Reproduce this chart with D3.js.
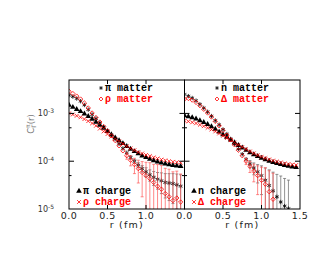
<!DOCTYPE html>
<html>
<head>
<meta charset="utf-8">
<script src="https://cdn.jsdelivr.net/npm/d3@7"></script>
<style>
body { margin: 0; background: #fff; }
</style>
</head>
<body>
<div id="chart"></div>
<script>
// r grid (fm), shared by every series
const rVals = [0.00, 0.05, 0.10, 0.15, 0.20, 0.25, 0.30, 0.35, 0.40, 0.45,
    0.50, 0.55, 0.60, 0.65, 0.70, 0.75, 0.80, 0.85, 0.90, 0.95,
    1.00, 1.05, 1.10, 1.15, 1.20, 1.25, 1.30, 1.35, 1.40, 1.45]

// left panel
const piMatter = [2.4e-3, 2.25e-3, 2.05e-3, 1.8e-3, 1.5e-3, 1.2e-3, 9.5e-4, 7.8e-4, 6.4e-4, 5.2e-4,
    4.3e-4, 3.5e-4, 2.9e-4, 2.3e-4, 1.85e-4, 1.5e-4, 1.2e-4, 1.0e-4, 8.3e-5, 7.0e-5,
    6.0e-5, 5.2e-5, 4.6e-5, 4.2e-5, 3.9e-5, 3.6e-5, 3.5e-5, 3.4e-5, 3.2e-5, 3.0e-5]
const piMatterErr = [0, 0, 0, 0, 0, 0, 0, 0, 0, 0,
    0, 0, 0, 0, 0, 0, 8e-6, 9e-6, 1e-5, 1.1e-5,
    1.3e-5, 1.4e-5, 1.5e-5, 1.6e-5, 1.8e-5, 1.9e-5, 2e-5, 2.1e-5, 2.2e-5, 2.2e-5]
const rhoMatter = [2.9e-3, 2.6e-3, 2.3e-3, 2.0e-3, 1.65e-3, 1.3e-3, 1.02e-3, 8.2e-4, 6.6e-4, 5.3e-4,
    4.3e-4, 3.4e-4, 2.7e-4, 2.1e-4, 1.65e-4, 1.3e-4, 1.05e-4, 8.5e-5, 7.0e-5, 5.8e-5,
    5.0e-5, 4.3e-5, 3.6e-5, 3.0e-5, 2.6e-5, 2.1e-5, 1.8e-5, 1.5e-5, 1.7e-5, 1.4e-5]
const rhoMatterErr = [0, 0, 0, 0, 0, 0, 0, 0, 0, 0,
    0, 0, 0, 0, 0, 2e-5, 2.5e-5, 3e-5, 3.5e-5, 4e-5,
    4.5e-5, 5e-5, 5e-5, 5.5e-5, 5.5e-5, 5e-5, 5e-5, 4.5e-5, 4.5e-5, 4e-5]
const piCharge = [1.5e-3, 1.35e-3, 1.22e-3, 1.1e-3, 9.8e-4, 8.7e-4, 7.6e-4, 6.6e-4, 5.7e-4, 4.9e-4,
    4.2e-4, 3.6e-4, 3.1e-4, 2.7e-4, 2.35e-4, 2.05e-4, 1.8e-4, 1.6e-4, 1.45e-4, 1.3e-4,
    1.2e-4, 1.1e-4, 1.03e-4, 9.7e-5, 9.2e-5, 8.8e-5, 8.5e-5, 8.2e-5, 8.0e-5, 7.8e-5]
const rhoCharge = [1.0e-3, 9.5e-4, 8.9e-4, 8.3e-4, 7.6e-4, 6.9e-4, 6.2e-4, 5.5e-4, 4.8e-4, 4.2e-4,
    3.7e-4, 3.3e-4, 2.9e-4, 2.6e-4, 2.3e-4, 2.05e-4, 1.85e-4, 1.7e-4, 1.55e-4, 1.45e-4,
    1.35e-4, 1.28e-4, 1.2e-4, 1.14e-4, 1.08e-4, 1.04e-4, 1.0e-4, 9.7e-5, 9.5e-5, 9.3e-5]

// right panel
const nMatter = [2.5e-3, 2.3e-3, 2.1e-3, 1.85e-3, 1.55e-3, 1.3e-3, 1.08e-3, 8.8e-4, 7.1e-4, 5.8e-4,
    4.6e-4, 3.7e-4, 2.9e-4, 2.3e-4, 1.8e-4, 1.4e-4, 1.1e-4, 8.8e-5, 7.2e-5, 6.0e-5,
    5.0e-5, 4.0e-5, 3.1e-5, 2.4e-5, 1.8e-5, 1.4e-5, 1.15e-5, 1.02e-5, null, null]
const nMatterErr = [0, 0, 0, 0, 0, 0, 0, 0, 0, 0,
    0, 0, 0, 0, 0, 0, 0, 1.5e-5, 2e-5, 2.5e-5,
    3e-5, 3.2e-5, 3.5e-5, 3.5e-5, 3.5e-5, 3.5e-5, 3.2e-5, 3e-5, 0, 0]
const deltaMatter = [2.0e-3, 2.05e-3, 1.9e-3, 1.7e-3, 1.45e-3, 1.22e-3, 1.02e-3, 8.4e-4, 6.8e-4, 5.5e-4,
    4.4e-4, 3.5e-4, 2.8e-4, 2.2e-4, 1.7e-4, 1.3e-4, 1.0e-4, 7.8e-5, 6.2e-5, 5.0e-5,
    4.0e-5, 3.3e-5, 2.3e-5, 1.6e-5, null, null, null, null, null, null]
const deltaMatterErr = [0, 0, 0, 0, 0, 0, 0, 0, 0, 0,
    0, 0, 0, 0, 0, 0, 1.5e-5, 2e-5, 2.5e-5, 3e-5,
    3.5e-5, 4e-5, 4e-5, 4e-5, 0, 0, 0, 0, 0, 0]
const nCharge = [9.0e-4, 8.6e-4, 8.2e-4, 7.7e-4, 7.1e-4, 6.5e-4, 5.9e-4, 5.3e-4, 4.7e-4, 4.1e-4,
    3.6e-4, 3.2e-4, 2.8e-4, 2.45e-4, 2.15e-4, 1.9e-4, 1.7e-4, 1.52e-4, 1.38e-4, 1.26e-4,
    1.16e-4, 1.08e-4, 1.01e-4, 9.5e-5, 9.0e-5, 8.6e-5, 8.2e-5, 7.9e-5, 7.6e-5, 7.4e-5]
const deltaCharge = [7.0e-4, 6.8e-4, 6.5e-4, 6.2e-4, 5.8e-4, 5.4e-4, 5.0e-4, 4.6e-4, 4.2e-4, 3.8e-4,
    3.4e-4, 3.05e-4, 2.75e-4, 2.45e-4, 2.2e-4, 1.98e-4, 1.78e-4, 1.6e-4, 1.46e-4, 1.34e-4,
    1.24e-4, 1.16e-4, 1.09e-4, 1.03e-4, 9.8e-5, 9.4e-5, 9.0e-5, 8.7e-5, 8.5e-5, 8.3e-5]

const xTicks = [0, 0.5, 1.0, 1.5]
const yMajor = [1e-3, 1e-4]
const yMinor = [5e-4, 5e-5]
const yLabels = [["10", "-3", 1e-3], ["10", "-4", 1e-4], ["10", "-5", 1e-5]]

const w = 327
const h = 273
const topY = 80
const botY = 209
const panelW = 115.5
const lefts = [69, 69 + panelW]

const svg = d3.select('#chart')
    .append('svg')
    .attr('width', w)
    .attr('height', h)

const yScale = d3.scaleLog()
    .domain([1e-5, 5e-3])
    .range([botY, topY])

const sym = (type, size) => d3.symbol(type, size)()

const panels = [
    {
        series: [
            { vals: piCharge, err: null, type: d3.symbolTriangle, size: 14, color: '#000', fill: true },
            { vals: rhoCharge, err: null, type: d3.symbolTimes, size: 11, color: '#f00', fill: false },
            { vals: piMatter, err: piMatterErr, type: d3.symbolAsterisk, size: 13, color: '#000', fill: false, errColor: '#666' },
            { vals: rhoMatter, err: rhoMatterErr, type: d3.symbolDiamond2, size: 12, color: '#f00', fill: false, errColor: '#f55' }
        ],
        legend: [
            { name: 'π matter', x: 101, y: 88, type: d3.symbolAsterisk, size: 10, color: '#000', fill: false },
            { name: 'ρ matter', x: 101, y: 99, type: d3.symbolDiamond2, size: 10, color: '#f00', fill: false },
            { name: 'π charge', x: 79, y: 191, type: d3.symbolTriangle, size: 14, color: '#000', fill: true },
            { name: 'ρ charge', x: 79, y: 202, type: d3.symbolTimes, size: 11, color: '#f00', fill: false }
        ],
        tickLabels: [0, 0.5, 1.0]
    },
    {
        series: [
            { vals: nCharge, err: null, type: d3.symbolTriangle, size: 14, color: '#000', fill: true },
            { vals: deltaCharge, err: null, type: d3.symbolTimes, size: 11, color: '#f00', fill: false },
            { vals: nMatter, err: nMatterErr, type: d3.symbolAsterisk, size: 13, color: '#000', fill: false, errColor: '#666' },
            { vals: deltaMatter, err: deltaMatterErr, type: d3.symbolDiamond2, size: 12, color: '#f00', fill: false, errColor: '#f55' }
        ],
        legend: [
            { name: 'n matter', x: 217, y: 88, type: d3.symbolAsterisk, size: 10, color: '#000', fill: false },
            { name: 'Δ matter', x: 217, y: 99, type: d3.symbolDiamond2, size: 10, color: '#f00', fill: false },
            { name: 'n charge', x: 194, y: 191, type: d3.symbolTriangle, size: 14, color: '#000', fill: true },
            { name: 'Δ charge', x: 194, y: 202, type: d3.symbolTimes, size: 11, color: '#f00', fill: false }
        ],
        tickLabels: [0, 0.5, 1.0, 1.5]
    }
]

panels.forEach((p, pi) => {
    const x0 = lefts[pi]
    const xScale = d3.scaleLinear()
        .domain([0, 1.5])
        .range([x0, x0 + panelW])

    svg.append('clipPath')
        .attr('id', 'clip' + pi)
        .append('rect')
        .attr('x', x0)
        .attr('y', topY)
        .attr('width', panelW)
        .attr('height', botY - topY)

    const g = svg.append('g').attr('clip-path', 'url(#clip' + pi + ')')

    p.series.forEach(s => {
        const pts = rVals.map((r, i) => ({ r: r, v: s.vals[i], e: s.err ? s.err[i] : 0 }))
            .filter(d => d.v != null)

        // error bars
        const eb = pts.filter(d => d.e > 0)
        const eg = g.append('g')
            .attr('stroke', s.errColor)
            .attr('stroke-width', 0.7)
        eb.forEach(d => {
            const xx = xScale(d.r)
            const yHi = yScale(d.v + d.e)
            const lo = d.v - d.e
            const yLo = lo > 1e-6 ? yScale(lo) : botY + 5
            eg.append('line').attr('x1', xx).attr('x2', xx).attr('y1', yHi).attr('y2', yLo)
            eg.append('line').attr('x1', xx - 1.5).attr('x2', xx + 1.5).attr('y1', yHi).attr('y2', yHi)
            eg.append('line').attr('x1', xx - 1.5).attr('x2', xx + 1.5).attr('y1', yLo).attr('y2', yLo)
        })

        g.append('g')
            .selectAll('path')
            .data(pts)
            .enter()
            .append('path')
            .attr('d', sym(s.type, s.size))
            .attr('transform', d => 'translate(' + xScale(d.r) + ',' + yScale(d.v) + ')')
            .attr('fill', s.fill ? s.color : 'none')
            .attr('stroke', s.color)
            .attr('stroke-width', s.fill ? 0 : 0.8)
    })

    // frame
    svg.append('rect')
        .attr('x', x0)
        .attr('y', topY)
        .attr('width', panelW)
        .attr('height', botY - topY)
        .attr('fill', 'none')
        .attr('stroke', '#000')
        .attr('stroke-width', 1)

    // x ticks top and bottom
    xTicks.slice(1, 3).forEach(t => {
        const xx = xScale(t)
        svg.append('line').attr('x1', xx).attr('x2', xx).attr('y1', botY).attr('y2', botY - 4).attr('stroke', '#000')
        svg.append('line').attr('x1', xx).attr('x2', xx).attr('y1', topY).attr('y2', topY + 4).attr('stroke', '#000')
    })

    // y ticks both sides
    const x1 = x0 + panelW
    yMajor.forEach(t => {
        svg.append('line').attr('x1', x0).attr('x2', x0 + 5).attr('y1', yScale(t)).attr('y2', yScale(t)).attr('stroke', '#000')
        svg.append('line').attr('x1', x1).attr('x2', x1 - 5).attr('y1', yScale(t)).attr('y2', yScale(t)).attr('stroke', '#000')
    })
    yMinor.forEach(t => {
        svg.append('line').attr('x1', x0).attr('x2', x0 + 2.5).attr('y1', yScale(t)).attr('y2', yScale(t)).attr('stroke', '#000')
        svg.append('line').attr('x1', x1).attr('x2', x1 - 2.5).attr('y1', yScale(t)).attr('y2', yScale(t)).attr('stroke', '#000')
    })

    // x tick labels
    svg.append('g')
        .selectAll('text')
        .data(p.tickLabels)
        .enter()
        .append('text')
        .attr('x', d => xScale(d))
        .attr('y', 219)
        .attr('text-anchor', 'middle')
        .attr('font-family', 'DejaVu Sans')
        .attr('font-size', 9.5)
        .attr('letter-spacing', 0.5)
        .attr('fill', '#222')
        .text(d => d3.format('.1f')(d))

    svg.append('text')
        .attr('x', x0 + panelW / 2)
        .attr('y', 228)
        .attr('text-anchor', 'middle')
        .attr('font-family', 'DejaVu Sans')
        .attr('font-size', 9.5)
        .attr('letter-spacing', 1.2)
        .attr('fill', '#222')
        .text('r (fm)')

    // legend
    p.legend.forEach(l => {
        svg.append('path')
            .attr('d', sym(l.type, l.size))
            .attr('transform', 'translate(' + l.x + ',' + l.y + ')')
            .attr('fill', l.fill ? l.color : 'none')
            .attr('stroke', l.color)
            .attr('stroke-width', l.fill ? 0 : 0.8)
        svg.append('text')
            .attr('x', l.x + 4)
            .attr('y', l.y + 3)
            .attr('font-family', 'Liberation Mono')
            .attr('font-weight', 'bold')
            .attr('font-size', 10)
            .attr('fill', l.color)
            .text(l.name)
    })
})

// y tick labels
yLabels.forEach(l => {
    const t = svg.append('text')
        .attr('x', 54)
        .attr('y', yScale(l[2]) + 3)
        .attr('text-anchor', 'end')
        .attr('font-family', 'DejaVu Sans')
        .attr('font-size', 8)
        .attr('fill', '#333')
    t.append('tspan').text(l[0])
    t.append('tspan').attr('dy', -3.5).attr('font-size', 6).text(l[1])
})

// y axis title
const yt = svg.append('text')
    .attr('transform', 'translate(34,124) rotate(-90)')
    .attr('text-anchor', 'middle')
    .attr('font-family', 'DejaVu Sans')
    .attr('font-size', 8.5)
    .attr('fill', '#777')
yt.append('tspan').text('C')
yt.append('tspan').attr('dy', 2).attr('font-size', 6).text('Γ')
yt.append('tspan').attr('dy', -6).attr('dx', -3.5).attr('font-size', 6).text('π')
yt.append('tspan').attr('dy', 4).text('(r)')
</script>
</body>
</html>
